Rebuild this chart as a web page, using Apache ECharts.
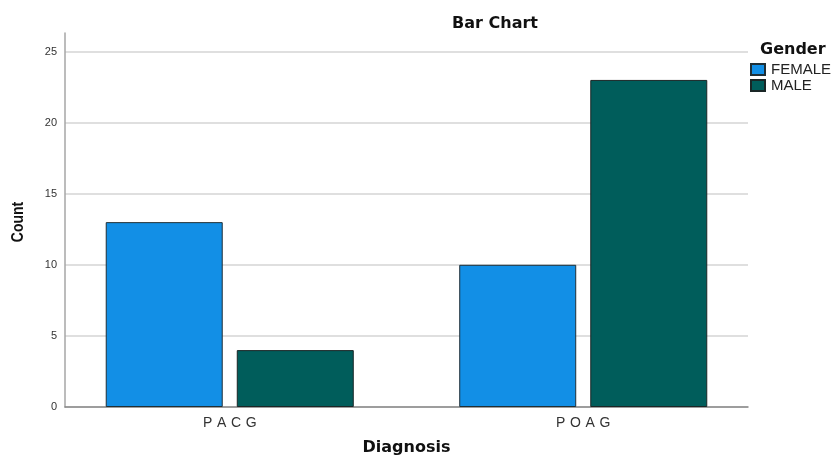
<!DOCTYPE html>
<html>
<head>
<meta charset="utf-8">
<script src="https://cdn.jsdelivr.net/npm/echarts@6/dist/echarts.min.js"></script>
<style>
  html, body { margin: 0; padding: 0; background: #fff; }
  #chart { width: 833px; height: 461px; }
</style>
</head>
<body>
<div id="chart"></div>
<script>
// Diagnosis counts split by gender
const categories = ['PACG', 'POAG'];
const femaleCounts = [13, 10];
const maleCounts = [4, 23];
const yTicks = [0, 5, 10, 15, 20, 25];

const SANS = 'Arial, "Liberation Sans", sans-serif';
const WIDE = '"DejaVu Sans", Arial, sans-serif';
const chart = echarts.init(document.getElementById('chart'), null, { renderer: 'canvas' });

const yMax = 26.3;
const plotTop = 33, plotBottom = 54;

chart.setOption({
  animation: false,
  backgroundColor: '#ffffff',
  title: [
    {
      text: 'Bar Chart', left: 490, top: 11, textAlign: 'center',
      textStyle: { fontFamily: WIDE, fontSize: 16, fontWeight: 'bold', color: '#111' }
    },
    {
      text: 'Gender', left: 755, top: 37,
      textStyle: { fontFamily: WIDE, fontSize: 16, fontWeight: 'bold', color: '#111' }
    }
  ],
  legend: {
    orient: 'vertical', left: 750, top: 62, padding: 0,
    itemWidth: 14, itemHeight: 11, itemGap: 1,
    icon: 'rect',
    textStyle: { fontFamily: SANS, fontSize: 15, color: '#222', lineHeight: 15, padding: [0, 0, 0, 1] },
    data: ['FEMALE', 'MALE']
  },
  // vertical axis title, drawn slightly condensed
  graphic: [
    {
      type: 'text', x: 18, y: 222, rotation: Math.PI / 2, scaleX: 0.82,
      style: {
        text: 'Count', font: 'bold 17px Arial, "Liberation Sans", sans-serif',
        fill: '#111', align: 'center', verticalAlign: 'middle'
      }
    }
  ],
  grid: [
    // frame grid: y axis, gridlines and baseline
    { left: 65, right: 85, top: plotTop, bottom: plotBottom, outerBoundsMode: 'none', containLabel: false },
    // grid that holds the bars and category labels
    { left: 53, right: 73, top: plotTop, bottom: plotBottom, outerBoundsMode: 'none', containLabel: false }
  ],
  xAxis: [
    {
      gridIndex: 0, type: 'category', data: categories,
      axisLine: { show: true, lineStyle: { color: '#888888', width: 1.5 } },
      axisTick: { show: false }, axisLabel: { show: false }
    },
    {
      gridIndex: 1, type: 'category', data: categories,
      axisLine: { show: false }, axisTick: { show: false },
      axisLabel: {
        fontFamily: SANS, fontSize: 14, color: '#333', margin: 9,
        formatter: v => v.split('').join('\u2004')
      },
      name: 'Diagnosis', nameLocation: 'middle', nameGap: 33,
      nameTextStyle: { fontFamily: WIDE, fontSize: 16, fontWeight: 'bold', color: '#111' }
    }
  ],
  yAxis: [
    {
      gridIndex: 0, type: 'value', min: 0, max: yMax, interval: 5,
      axisLine: { show: true, lineStyle: { color: '#a6a6a6', width: 1.5 } },
      axisTick: { show: false },
      axisLabel: {
        fontFamily: SANS, fontSize: 11, color: '#333', margin: 8,
        showMaxLabel: false,
        formatter: v => (yTicks.includes(v) ? String(v) : '')
      },
      splitLine: { show: true, showMaxLine: false, lineStyle: { color: '#d4d4d4', width: 1.5 } }
    },
    {
      gridIndex: 1, type: 'value', min: 0, max: yMax, show: false,
      splitLine: { show: false }
    }
  ],
  series: [
    {
      name: 'FEMALE', type: 'bar', xAxisIndex: 1, yAxisIndex: 1,
      data: femaleCounts, barWidth: 117, barGap: '12%',
      itemStyle: { color: '#128fe6', borderColor: '#1f2f36', borderWidth: 1 }
    },
    {
      name: 'MALE', type: 'bar', xAxisIndex: 1, yAxisIndex: 1,
      data: maleCounts, barWidth: 117, barGap: '12%',
      itemStyle: { color: '#005d5b', borderColor: '#1a2626', borderWidth: 1 }
    }
  ]
});
</script>
</body>
</html>
